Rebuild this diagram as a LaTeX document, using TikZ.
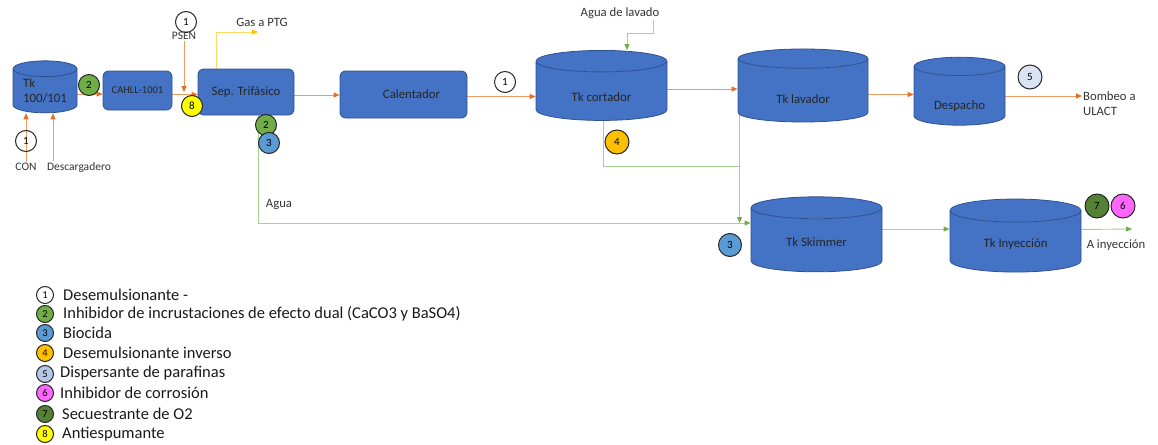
\documentclass[tikz,border=0pt]{standalone}
\usepackage{fontspec}
\setmainfont{Carlito}
\usetikzlibrary{arrows.meta,positioning,shapes.geometric,backgrounds}

\definecolor{tankFill}{HTML}{4472C4}
\definecolor{tankEdge}{HTML}{2F528F}
\definecolor{oilLine}{HTML}{F09A62}
\definecolor{oilTip}{HTML}{E2702A}
\definecolor{waterLine}{HTML}{A9D18E}
\definecolor{waterTip}{HTML}{70AD47}
\definecolor{gasLine}{HTML}{FFD966}
\definecolor{gasTip}{HTML}{FFC000}
\definecolor{chemTwo}{HTML}{70AD47}
\definecolor{chemThree}{HTML}{5B9BD5}
\definecolor{chemFour}{HTML}{FFC000}
\definecolor{chemFive}{HTML}{DAE3F3}
\definecolor{chemFiveKey}{HTML}{B4C7E7}
\definecolor{chemSix}{HTML}{FF66FF}
\definecolor{chemSeven}{HTML}{548235}
\definecolor{chemEight}{HTML}{FFFF00}

\begin{document}
\begin{tikzpicture}[x=1pt,y=-1pt,>={Triangle[length=6pt,width=5pt]}]
  \useasboundingbox (0,0) rectangle (1158,444);
  \tikzset{
    tank/.style={cylinder,shape border rotate=90,draw=tankEdge,line width=.8pt,
      cylinder uses custom fill,cylinder body fill=tankFill,cylinder end fill=tankFill,
      aspect=.36,inner sep=0pt,text=black!85,font=\fontsize{12.8}{15}\selectfont},
    textDrop/.style={text height=#1,text depth=0pt},
    unit/.style={rectangle,draw=tankEdge,line width=.8pt,fill=tankFill,rounded corners=1.2ex,
      inner sep=0pt,text=black!85,font=\fontsize{12.8}{15}\selectfont},
    dose/.style={circle,draw=black!85,line width=1pt,minimum size=21pt,inner sep=0pt,
      font=\fontsize{11}{11}\selectfont},
    keyDose/.style={dose,minimum size=17pt,font=\fontsize{10.5}{11}\selectfont},
    keyText/.style={anchor=west,inner sep=0pt,text=black!90,font=\fontsize{16.5}{18}\selectfont},
    tag/.style={text=black!80,inner sep=1pt,font=\fontsize{12.7}{15}\selectfont},
    smallTag/.style={tag,font=\fontsize{11.5}{13}\selectfont},
    % connector styles
    oilFlow/.style={-{Triangle[length=6pt,width=5pt,color=oilTip]},draw=oilLine,line width=.9pt},
    waterFlow/.style={-{Triangle[length=6pt,width=5pt,color=waterTip]},draw=waterLine,line width=.9pt},
    waterPipe/.style={draw=waterLine,line width=.9pt},
    gasFlow/.style={-{Triangle[length=6pt,width=5pt,color=gasTip]},draw=gasLine,line width=.9pt}
  }

  %% Crude oil train
  \node [tank,minimum width=64pt,minimum height=52pt,align=left] (tk1) at (45,91) {Tk\\100/101};
  \node [unit,minimum width=69pt,minimum height=39pt,font=\fontsize{10.5}{12}\selectfont] (cahll) at (137.5,90.5) {CAHLL-1001};
  \node [unit,minimum width=96pt,minimum height=46pt] (sep) at (246,92) {Sep. Trifásico};
  \node [unit,minimum width=127pt,minimum height=47pt] (cal) at (403.5,94.5) {\hspace*{16pt}Calentador};
  \node [tank,textDrop=21pt,minimum width=131pt,minimum height=70pt] (tk2) at (601.5,91) {Tk cortador};
  \node [tank,textDrop=25pt,minimum width=130pt,minimum height=73pt] (tk3) at (803,90.5) {Tk lavador};
  \node [tank,textDrop=26pt,minimum width=91pt,minimum height=68pt] (tk4) at (959.5,96) {Despacho};

  %% Water train
  \node [tank,textDrop=12pt,minimum width=131pt,minimum height=75pt] (tk5) at (816.5,240) {Tk Skimmer};
  \node [tank,textDrop=11pt,minimum width=131pt,minimum height=73pt] (tk6) at (1015.5,241.5) {Tk Inyección};

  %% Labels
  \node [smallTag] (con) at (26,167) {CON};
  \node [smallTag] (desc) at (79,167) {Descargadero};
  \node [smallTag] (psen) at (184,36) {PSEN};
  \node [tag] (gas) at (262,22) {Gas a PTG};
  \node [tag] (lavado) at (620,13) {Agua de lavado};
  \node [tag] (agua) at (279,205) {Agua};
  \node [tag,anchor=west,align=left] (bombeo) at (1082,104) {Bombeo a\\ULACT};
  \node [tag] (ainy) at (1116,245) {A inyección};
  \coordinate (gasOut) at (258,32);
  \coordinate (injOut) at (1132,229);

  %% Dosing points
  \node [dose] (d1a) at (26,141) {1};
  \node [dose,fill=chemTwo] (d2a) at (89,85) {2};
  \node [dose] (d1b) at (186,22) {1};
  \node [dose,fill=chemEight] (d8) at (192,106) {8};
  \node [dose,fill=chemTwo] (d2b) at (266,125) {2};
  \node [dose,fill=chemThree] (d3a) at (269,143) {3};
  \node [dose] (d1c) at (505,82) {1};
  \node [dose,fill=chemFour,minimum size=24pt] (d4) at (617,142) {4};
  \node [dose,fill=chemFive,minimum size=24pt] (d5) at (1030,77) {5};
  \node [dose,fill=chemThree,minimum size=23pt] (d3b) at (730,245) {3};
  \node [dose,fill=chemSeven,minimum size=24pt] (d7) at (1097,206) {7};
  \node [dose,fill=chemSix,minimum size=24pt] (d6) at (1123,206) {6};

  \begin{scope}[on background layer]
    % oil lines
    \draw [oilFlow] (con.north) -- (con.north |- tk1.south);
    \draw [oilFlow] ([xshift=-26pt]desc.north) -- ([xshift=-26pt]desc.north |- tk1.south);
    \draw [oilFlow] ([yshift=-3pt]tk1.east) -- ([yshift=-3pt]tk1.east -| cahll.west);
    \draw [oilFlow] ([yshift=-4pt]cahll.east) -- ([yshift=-4pt]cahll.east -| sep.west);
    \draw [oilFlow] (psen.south) -- (psen.south |- sep.west);
    \draw [oilFlow] ([yshift=-3pt]sep.east) -- ([yshift=-3pt]sep.east -| cal.west);
    \draw [oilFlow] ([yshift=-2pt]cal.east) -- ([yshift=-2pt]cal.east -| tk2.west);
    \draw [oilFlow] ([yshift=2pt]tk2.east) -- ([yshift=2pt]tk2.east -| tk3.west);
    \draw [oilFlow] ([yshift=-4pt]tk3.east) -- ([yshift=-4pt]tk3.east -| tk4.west);
    \draw [oilFlow] (tk4.east) -- (tk4.east -| bombeo.west);
    % gas line
    \draw [gasFlow] ([xshift=-30pt]sep.north) |- (gasOut);
    % water lines
    \draw [waterFlow] ([xshift=33pt]lavado.south) -- ++(0,14) -| ([xshift=25.5pt]tk2.north);
    \draw [waterPipe] ([xshift=1.5pt]tk2.south) -- ++(0,46) -| ([xshift=2pt]tk3.west);
    \draw [waterFlow] ([xshift=2pt]tk3.west) -- ([xshift=2pt,yshift=17pt]tk3.west |- tk5.west);
    \draw [waterFlow] ([xshift=12pt]sep.south) |- ([yshift=17pt]tk5.west);
    \draw [waterFlow] ([yshift=11pt]tk5.east) -- ([yshift=11pt]tk5.east -| tk6.west);
    \draw [waterFlow] ([yshift=12pt]tk6.east) -- (injOut);
  \end{scope}

  %% Key
  \node [keyDose] (k1) at (45,295) {1};
  \node [keyText] (kt1) at (63,295) {Desemulsionante -};
  \node [keyDose,fill=chemTwo] (k2) at (45,314) {2};
  \node [keyText] (kt2) at (63,314) {Inhibidor de incrustaciones de efecto dual (CaCO3 y BaSO4)};
  \node [keyDose,fill=chemThree] (k3) at (45,333) {3};
  \node [keyText] (kt3) at (63,333) {Biocida};
  \node [keyDose,fill=chemFour] (k4) at (45,353) {4};
  \node [keyText] (kt4) at (63,353) {Desemulsionante inverso};
  \node [keyDose,fill=chemFiveKey] (k5) at (45,374) {5};
  \node [keyText] (kt5) at (60,373) {Dispersante de parafinas};
  \node [keyDose,fill=chemSix] (k6) at (45,393) {6};
  \node [keyText] (kt6) at (60,393) {Inhibidor de corrosión};
  \node [keyDose,fill=chemSeven] (k7) at (45,414) {7};
  \node [keyText] (kt7) at (62,414) {Secuestrante de O2};
  \node [keyDose,fill=chemEight] (k8) at (45,434) {8};
  \node [keyText] (kt8) at (62,434) {Antiespumante};
\end{tikzpicture}
\end{document}
